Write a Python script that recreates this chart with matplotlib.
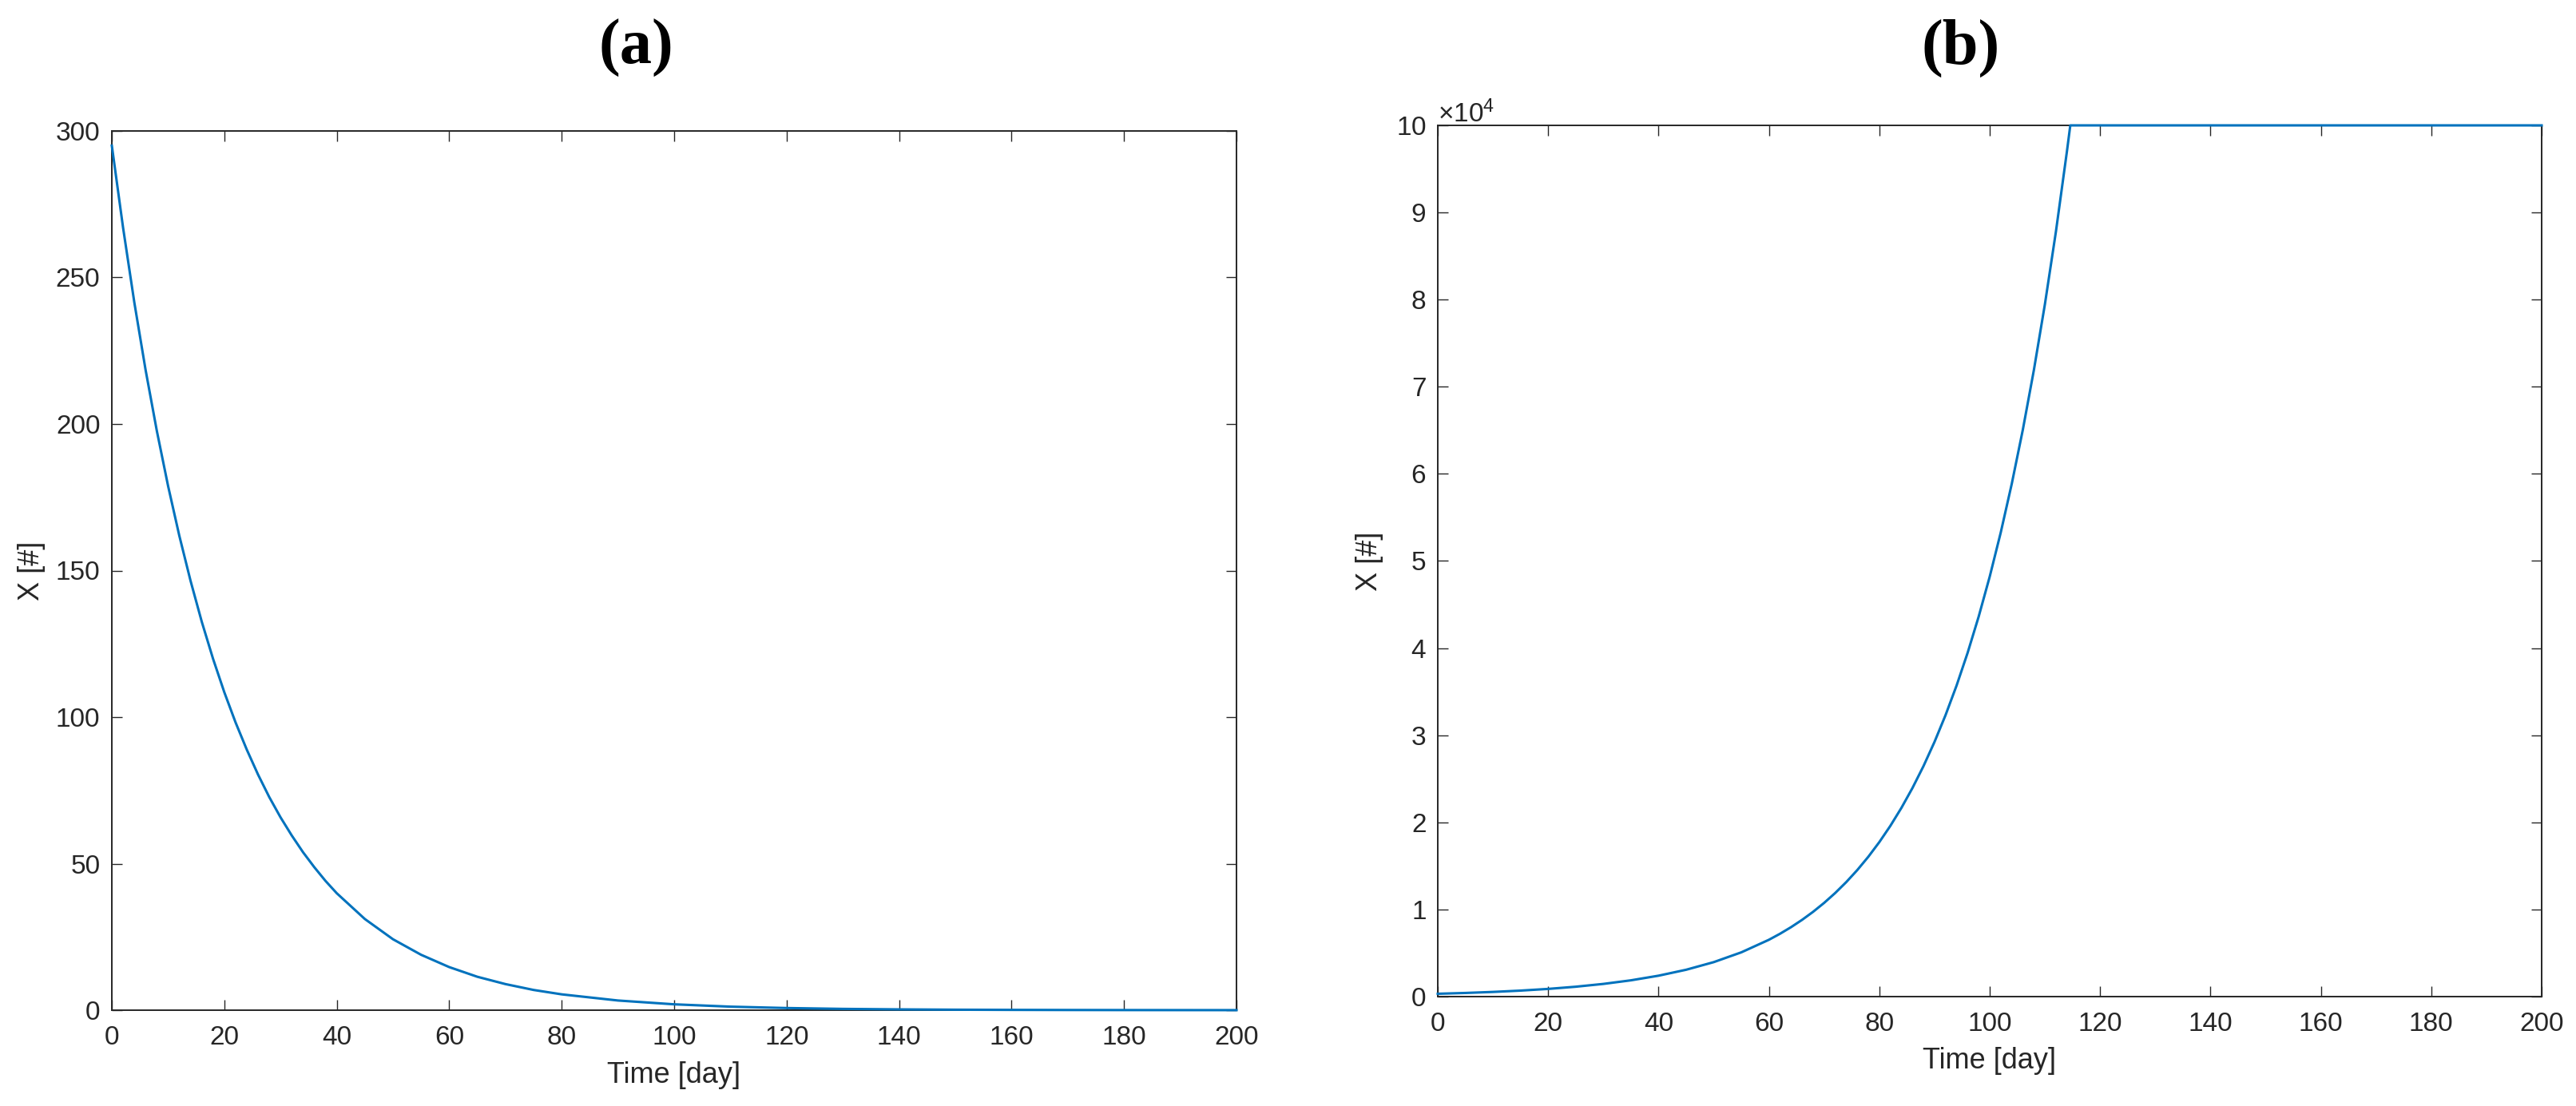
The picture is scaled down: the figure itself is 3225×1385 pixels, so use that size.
import matplotlib
matplotlib.use("Agg")
import matplotlib.pyplot as plt
from matplotlib.ticker import ScalarFormatter

# ---------------- data ----------------
days_a = [0, 2, 4, 6, 8, 10, 12, 14, 16, 18, 20, 22, 24, 26, 28, 30, 32, 34, 36, 38,
          40, 45, 50, 55, 60, 65, 70, 75, 80, 90, 100, 110, 120, 130, 140, 150,
          160, 170, 180, 190, 200]
x_a = [295, 267, 241.5, 218.5, 197.7, 178.9, 161.9, 146.5, 132.5, 119.9, 108.5,
       98.2, 88.9, 80.4, 72.7, 65.8, 59.6, 53.9, 48.8, 44.1, 39.9, 31.1, 24.2,
       18.9, 14.7, 11.4, 8.9, 6.9, 5.4, 3.3, 2.0, 1.2, 0.73, 0.44, 0.27, 0.16,
       0.10, 0.06, 0.036, 0.022, 0.013]

days_b = [0, 5, 10, 15, 20, 25, 30, 35, 40, 45, 50, 55, 60, 62, 64, 66, 68, 70, 72,
          74, 76, 78, 80, 82, 84, 86, 88, 90, 92, 94, 96, 98, 100, 102, 104, 106,
          108, 110, 112, 114, 114.6, 200]
x_b = [325, 417, 536, 688, 883, 1134, 1456, 1869, 2400, 3082, 3957, 5081, 6523,
       7210, 7968, 8806, 9732, 10756, 11887, 13137, 14519, 16046, 17733, 19598,
       21659, 23937, 26454, 29236, 32311, 35709, 39464, 43614, 48200, 53269,
       58871, 65063, 71905, 79467, 87825, 97061, 100000, 100000]

xticks = list(range(0, 201, 20))
yticks_a = list(range(0, 301, 50))
yticks_b = list(range(0, 100001, 10000))
titles = ["(a)", "(b)"]
xlabel = "Time [day]"
ylabel = "X [#]"

# ---------------- style ----------------
plt.rcParams['font.family'] = ['Liberation Sans', 'DejaVu Sans']
plt.rcParams['mathtext.fontset'] = 'custom'
plt.rcParams['mathtext.rm'] = 'Liberation Sans'
plt.rcParams['mathtext.it'] = 'Liberation Sans:italic'
plt.rcParams['mathtext.bf'] = 'Liberation Sans:bold'

AX_COL = '#262626'
LINE_COL = '#0072BD'

fig = plt.figure(figsize=(32.25, 13.85), dpi=100)
ax_a = fig.add_axes([140/3225, 1 - 1265/1385, 1408/3225, 1101/1385])
ax_b = fig.add_axes([1800/3225, 1 - 1248/1385, 1382/3225, 1091/1385])


def style(ax):
    for sp in ax.spines.values():
        sp.set_color(AX_COL)
        sp.set_linewidth(1.4)
    ax.tick_params(axis='both', which='both', direction='in', length=9.7,
                   width=1.0, color=AX_COL, labelcolor=AX_COL, labelsize=24,
                   top=True, right=True)
    ax.tick_params(axis='y', pad=10.5)
    ax.tick_params(axis='x', pad=13.5)
    ax.set_xlim(0, 200)
    ax.set_xticks(xticks)
    ax.set_xlabel(xlabel, fontsize=26, color=AX_COL)
    ax.set_ylabel(ylabel, fontsize=26, color=AX_COL)


# panel (a)
ax_a.plot(days_a, x_a, color=LINE_COL, lw=2.2, zorder=3, clip_on=False)
style(ax_a)
ax_a.set_ylim(0, 300)
ax_a.set_yticks(yticks_a)
ax_a.xaxis.set_label_coords(0.5, -0.058)
ax_a.yaxis.set_label_coords(-0.059, 0.5)

# panel (b)
ax_b.plot(days_b, x_b, color=LINE_COL, lw=2.2, zorder=3, clip_on=False)
style(ax_b)
ax_b.set_ylim(0, 100000)
ax_b.set_yticks(yticks_b)
fmt = ScalarFormatter(useMathText=True)
fmt.set_powerlimits((4, 4))
ax_b.yaxis.set_major_formatter(fmt)
ax_b.yaxis.get_offset_text().set_fontsize(24)
ax_b.yaxis.get_offset_text().set_color(AX_COL)
ax_b.xaxis.set_label_coords(0.5, -0.058)
ax_b.yaxis.set_label_coords(-0.049, 0.5)

# panel titles
fig.text(796/3225, 1 - 60/1385, titles[0], fontsize=58, fontweight='bold',
         family='Liberation Serif', ha='center', va='center', color='black')
fig.text(2455/3225, 1 - 60/1385, titles[1], fontsize=58, fontweight='bold',
         family='Liberation Serif', ha='center', va='center', color='black')

fig.savefig("out.png", dpi=100, facecolor='white')
